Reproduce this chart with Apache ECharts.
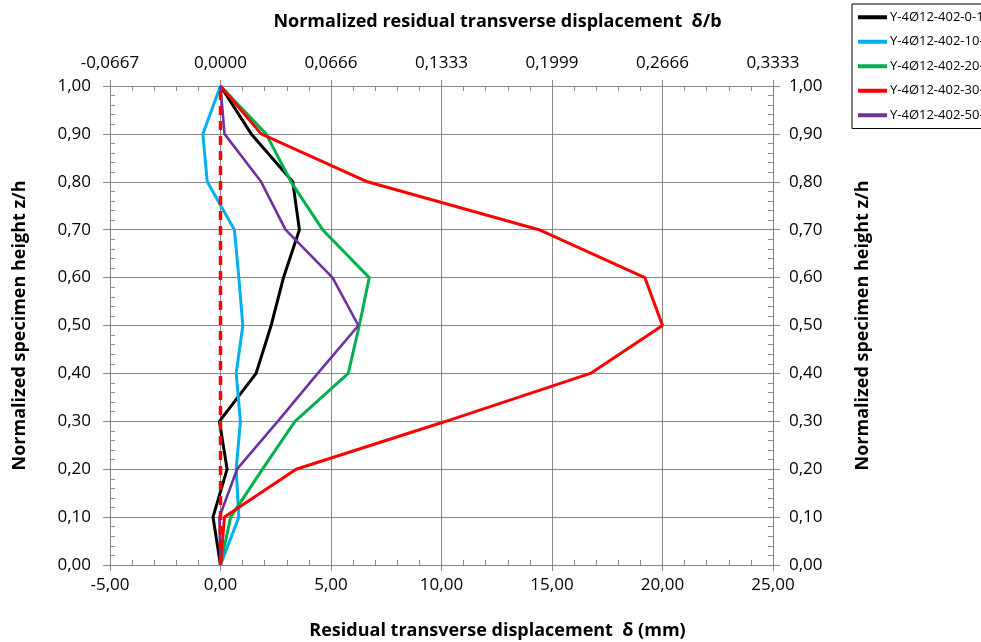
<!DOCTYPE html>
<html>
<head>
    <meta charset="utf-8">
    <script src="https://cdn.jsdelivr.net/npm/echarts@6/dist/echarts.min.js"></script>
</head>
<style type="text/css">
    html, body { margin: 0; padding: 0; background: #fff; }
    #chart { width: 981px; height: 642px; }
</style>
<body>
    <div id="chart"></div>
</body>
</html>

<script type="text/javascript">
    // normalized height z/h, bottom to top
    let heights = [0, 0.1, 0.2, 0.3, 0.4, 0.5, 0.6, 0.7, 0.8, 0.9, 1.0]

    // residual transverse displacement (mm) per specimen
    let s0_1 = [0, -0.34, 0.30, -0.05, 1.61, 2.29, 2.85, 3.57, 3.27, 1.39, 0]
    let s10 = [0, 0.83, 0.71, 0.90, 0.71, 1.01, 0.83, 0.63, -0.60, -0.80, 0]
    let s20 = [0, 0.46, 1.90, 3.37, 5.78, 6.28, 6.73, 4.62, 3.19, 2.06, 0]
    let s30 = [0, 0.18, 3.42, 10.20, 16.74, 20.00, 19.20, 14.41, 6.65, 1.84, 0]
    let s50 = [0, -0.05, 0.75, 2.59, 4.40, 6.24, 5.07, 2.94, 1.84, 0.18, 0]

    // zero reference (dashed)
    let refX = [0, 0]
    let refY = [0, 1]

    let names = ['Y-4Ø12-402-0-1', 'Y-4Ø12-402-10-2', 'Y-4Ø12-402-20-3', 'Y-4Ø12-402-30-4', 'Y-4Ø12-402-50-5']
    let colors = ['#000000', '#00B0F0', '#00B050', '#FF0000', '#7030A0']

    let xBottomLabels = ['-5,00', '0,00', '5,00', '10,00', '15,00', '20,00', '25,00']
    let xTopLabels = ['-0,0667', '0,0000', '0,0666', '0,1333', '0,1999', '0,2666', '0,3333']
    let yLabels = ['0,00', '0,10', '0,20', '0,30', '0,40', '0,50', '0,60', '0,70', '0,80', '0,90', '1,00']

    const FONT = 'Open Sans'
    const GREY = '#8a8a8a'

    function pairs(xs) {
        return xs.map((v, i) => [v, heights[i]])
    }

    function xAxisMain(pos, labels, name, gap, grid, margin) {
        return {
            type: 'value', position: pos, min: -5, max: 25, interval: 5,
            name: name, nameLocation: 'middle', nameGap: gap,
            // Excel centres the title on the chart area, not the plot: push it right
            nameTextStyle: { fontFamily: FONT, fontSize: 18, fontWeight: 'bold', color: '#000', padding: [0, 0, 0, 112] },
            axisLine: { show: true, onZero: false, lineStyle: { color: GREY, width: 1 } },
            axisTick: { show: true, inside: false, length: 6, lineStyle: { color: GREY } },
            axisLabel: {
                margin: margin, fontFamily: FONT, fontSize: 17, color: '#000',
                formatter: v => labels[Math.round((v + 5) / 5)]
            },
            splitLine: { show: grid, lineStyle: { color: GREY, width: 1 } }
        }
    }

    function xAxisMinor(pos) {
        return {
            type: 'value', position: pos, min: -5, max: 25, interval: 5,
            axisLine: { show: false, onZero: false },
            axisTick: { show: true, inside: true, length: 5, lineStyle: { color: GREY } },
            minorTick: { show: true, splitNumber: 5, length: 5, lineStyle: { color: GREY } },
            axisLabel: { show: false },
            splitLine: { show: false }
        }
    }

    function yAxisMain(pos, name, grid) {
        return {
            type: 'value', position: pos, min: 0, max: 1, interval: 0.1,
            name: name, nameLocation: 'middle', nameGap: 81, nameRotate: 90,
            nameTextStyle: { fontFamily: FONT, fontSize: 18, fontWeight: 'bold', color: '#000' },
            axisLine: { show: true, onZero: false, lineStyle: { color: GREY, width: 1 } },
            axisTick: { show: true, inside: false, length: 7, lineStyle: { color: GREY } },
            axisLabel: {
                margin: pos === 'left' ? 19 : 16, fontFamily: FONT, fontSize: 17, color: '#000',
                formatter: v => yLabels[Math.round(v * 10)]
            },
            splitLine: { show: grid, lineStyle: { color: GREY, width: 1 } }
        }
    }

    function yAxisMinor(pos) {
        return {
            type: 'value', position: pos, min: 0, max: 1, interval: 0.1,
            axisLine: { show: false, onZero: false },
            axisTick: { show: true, inside: true, length: 5, lineStyle: { color: GREY } },
            minorTick: { show: true, splitNumber: 5, length: 5, lineStyle: { color: GREY } },
            axisLabel: { show: false },
            splitLine: { show: false }
        }
    }

    let allData = [s0_1, s10, s20, s30, s50]
    let series = allData.map((d, i) => ({
        name: names[i],
        type: 'line',
        data: pairs(d),
        showSymbol: false,
        symbol: 'none',
        lineStyle: { color: colors[i], width: i === 4 ? 2.6 : 3 },
        itemStyle: { color: colors[i] },
        z: 3
    }))
    series.push({
        name: 'ref',
        type: 'line',
        data: refX.map((v, i) => [v, refY[i]]),
        showSymbol: false,
        symbol: 'none',
        lineStyle: { color: '#FF0000', width: 3.5, type: [9, 6] },
        z: 4
    })

    let myChart = echarts.init(document.getElementById('chart'), null, { renderer: 'canvas' })

    let option = {
        backgroundColor: '#fff',
        animation: false,
        grid: { left: 110, right: 208, top: 86, bottom: 77, containLabel: false, outerBoundsMode: 'none' },
        legend: {
            data: names,
            orient: 'vertical',
            left: 852, top: 4,
            padding: [6, 20, 6, 6],
            itemGap: 10,
            itemWidth: 29, itemHeight: 4,
            icon: 'rect',
            borderColor: '#000', borderWidth: 1,
            textStyle: { fontFamily: FONT, fontSize: 13, color: '#000', lineHeight: 14.5, padding: [0, 0, 0, -2] }
        },
        xAxis: [
            xAxisMain('bottom', xBottomLabels, 'Residual transverse displacement  δ (mm)', 57, true, 12),
            xAxisMain('top', xTopLabels, 'Normalized residual transverse displacement  δ/b', 55, false, 14),
            xAxisMinor('bottom'),
            xAxisMinor('top')
        ],
        yAxis: [
            yAxisMain('left', 'Normalized specimen height z/h', true),
            yAxisMain('right', 'Normalized specimen height z/h', false),
            yAxisMinor('left'),
            yAxisMinor('right')
        ],
        series: series
    }

    myChart.setOption(option)
</script>
